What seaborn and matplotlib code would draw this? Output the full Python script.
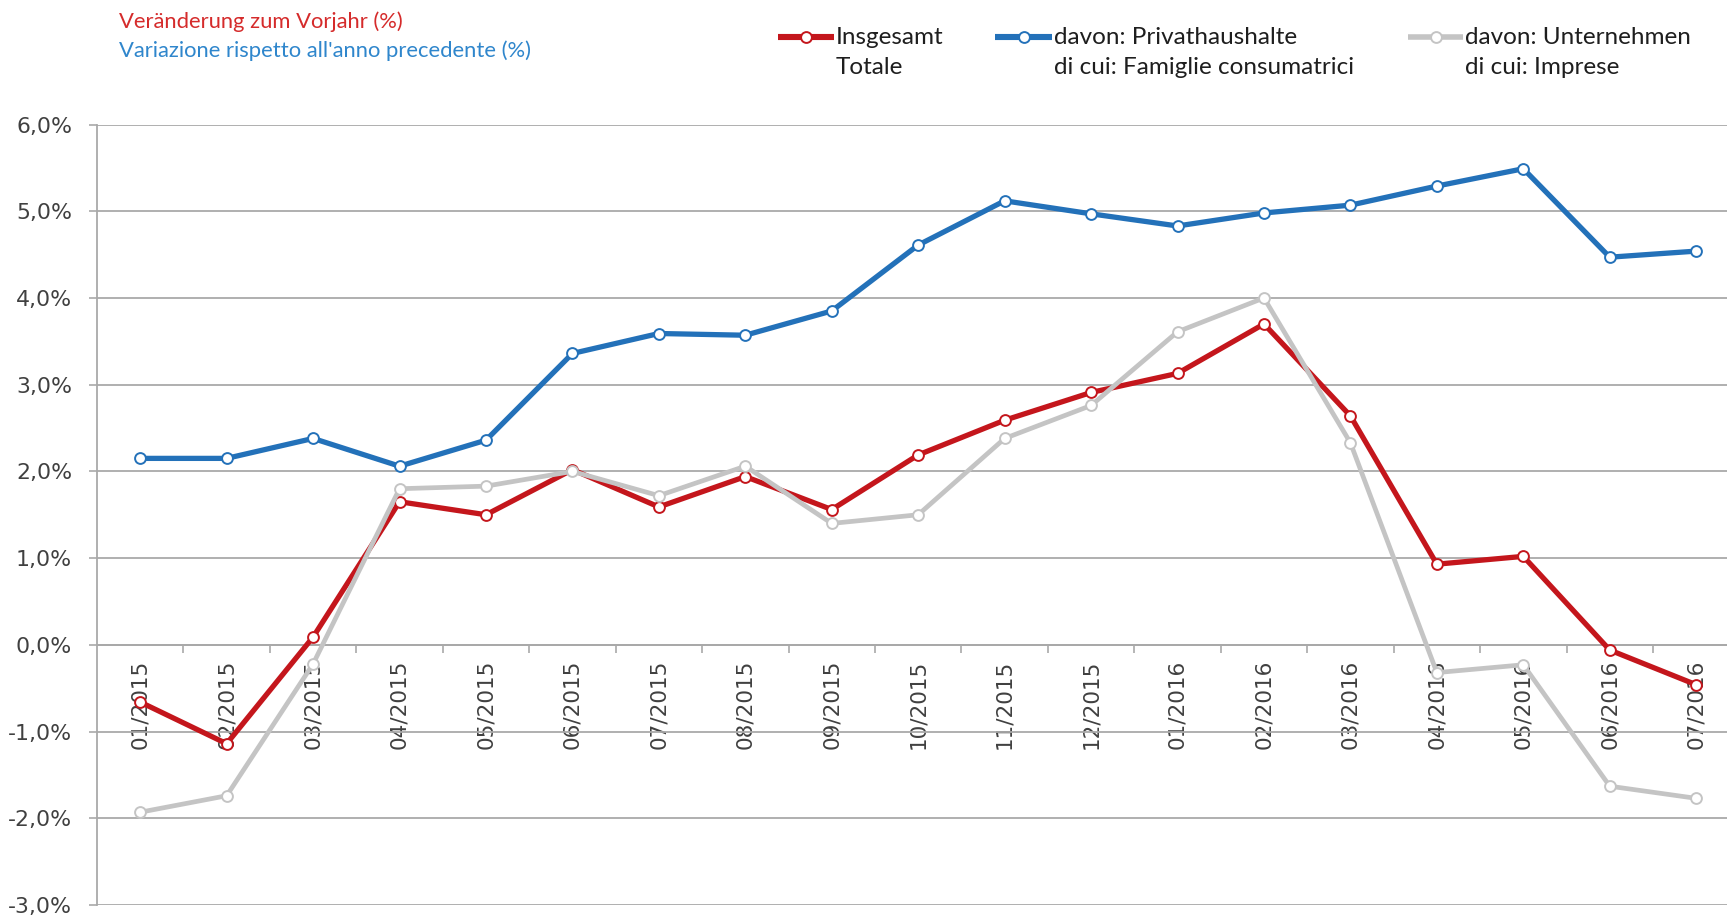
import matplotlib
matplotlib.use("Agg")
import matplotlib.pyplot as plt
from matplotlib.lines import Line2D
from matplotlib.ticker import FuncFormatter, FixedLocator
import seaborn as sns
import pandas as pd

# Monthly year-on-year change (%)
months = ["01/2015", "02/2015", "03/2015", "04/2015", "05/2015", "06/2015",
          "07/2015", "08/2015", "09/2015", "10/2015", "11/2015", "12/2015",
          "01/2016", "02/2016", "03/2016", "04/2016", "05/2016", "06/2016",
          "07/2016"]
total = [-0.66, -1.14, 0.09, 1.65, 1.50, 2.02, 1.59, 1.94, 1.56, 2.19, 2.59,
         2.91, 3.13, 3.70, 2.64, 0.93, 1.02, -0.06, -0.46]
households = [2.15, 2.15, 2.38, 2.06, 2.36, 3.36, 3.59, 3.57, 3.85, 4.61, 5.12,
              4.97, 4.83, 4.98, 5.07, 5.29, 5.49, 4.47, 4.54]
companies = [-1.93, -1.74, -0.22, 1.80, 1.83, 2.00, 1.72, 2.06, 1.40, 1.50, 2.38,
             2.76, 3.61, 4.00, 2.33, -0.32, -0.23, -1.63, -1.77]

series_names = ["Insgesamt", "Privathaushalte", "Unternehmen"]
legend_line1 = ["Insgesamt", "davon: Privathaushalte", "davon: Unternehmen"]
legend_line2 = ["Totale", "di cui: Famiglie consumatrici", "di cui: Imprese"]
colors = ["#C4161C", "#2371B9", "#C4C4C4"]
widths = [3.8, 3.8, 3.4]

W, H = 1727, 916
sns.set_theme(style="white")
plt.rcParams["font.family"] = ["DejaVu Sans"]

fig = plt.figure(figsize=(W / 100, H / 100), dpi=100)
ax = fig.add_axes([97 / W, 11 / H, 1 - 97 / W, (905 - 124.5) / H])

df = pd.DataFrame({
    "x": list(range(len(months))) * 3,
    "value": total + households + companies,
    "series": [s for s in series_names for _ in months],
})

for name, col, lw in zip(series_names, colors, widths):
    sub = df[df["series"] == name]
    sns.lineplot(data=sub, x="x", y="value", ax=ax, color=col, lw=lw,
                 marker="o", markersize=7.8, markerfacecolor="white",
                 markeredgecolor=col, markeredgewidth=1.4, legend=False,
                 zorder=3)

grid_col = "#A9A9A9"
ax.set_ylim(-3, 6)
ax.set_xlim(-0.5, (W - 141) / 86.4)
ax.set_yticks(range(-3, 7))
ax.yaxis.set_major_formatter(FuncFormatter(lambda v, p: f"{v:.1f}%".replace(".", ",")))
ax.grid(axis="y", color=grid_col, lw=1.3)
ax.grid(axis="x", visible=False)
ax.set_xlabel("")
ax.set_ylabel("")

for s in ["top", "right"]:
    ax.spines[s].set_visible(False)
ax.spines["left"].set_color(grid_col)
ax.spines["left"].set_linewidth(1.3)
ax.spines["bottom"].set_position(("data", 0))
ax.spines["bottom"].set_color(grid_col)
ax.spines["bottom"].set_linewidth(1.3)

ax.set_xticks(range(len(months)))
ax.set_xticklabels(months, rotation=90, fontsize=15.5, color="#404040")
ax.xaxis.set_minor_locator(FixedLocator([i + 0.5 for i in range(len(months))]))
ax.tick_params(axis="x", which="major", length=0, pad=11)
ax.tick_params(axis="x", which="minor", length=6, width=1.2, color=grid_col,
               direction="out", bottom=True)
ax.tick_params(axis="y", length=6, width=1.2, color=grid_col, direction="out",
               left=True, labelsize=15.8, labelcolor="#404040", pad=12)

# Header text
head_font = ["Lato", "DejaVu Sans"]
fig.text(119 / W, 1 - 22 / H, "Veränderung zum Vorjahr (%)", color="#D52B2B",
         fontsize=15.8, family=head_font, va="center", ha="left")
fig.text(119 / W, 1 - 51 / H, "Variazione rispetto all'anno precedente (%)",
         color="#2F86CC", fontsize=15.8, family=head_font, va="center", ha="left")

# Legend
legend_x = [(778, 834, 836), (995, 1052, 1054), (1408, 1463, 1465)]
y1 = 1 - 37 / H
y2 = 1 - 68 / H
for (x0, x1, xt), col, lw, t1, t2 in zip(legend_x, colors, widths,
                                         legend_line1, legend_line2):
    fig.add_artist(Line2D([x0 / W, x1 / W], [y1, y1], transform=fig.transFigure,
                          color=col, lw=lw + 0.6, solid_capstyle="butt"))
    fig.add_artist(Line2D([(x0 + x1) / 2 / W], [y1], transform=fig.transFigure,
                          marker="o", markersize=7.8, markerfacecolor="white",
                          markeredgecolor=col, markeredgewidth=1.4))
    fig.text(xt / W, y1, t1, fontsize=17.5, family=head_font, color="#1E1E1E",
             va="center", ha="left")
    fig.text(xt / W, y2, t2, fontsize=17.5, family=head_font, color="#1E1E1E",
             va="center", ha="left")

fig.savefig("out.png", dpi=100)
